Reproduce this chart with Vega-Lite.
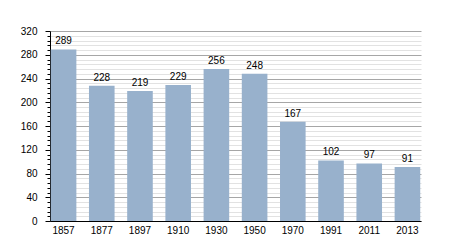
{
  "$schema": "https://vega.github.io/schema/vega-lite/v6.json",
  "width": 371,
  "height": 190,
  "autosize": "none",
  "padding": {"left": 50, "top": 31, "right": 29, "bottom": 29},
  "background": "white",
  "config": {
    "view": {"stroke": null},
    "font": "Liberation Sans",
    "axis": {"labelFont": "Liberation Sans", "labelFontSize": 10, "labelColor": "#000", "domainColor": "#000", "tickColor": "#000", "titleFontSize": 10}
  },
  "data": {
    "values": [
      {"year": "1857", "pop": 289},
      {"year": "1877", "pop": 228},
      {"year": "1897", "pop": 219},
      {"year": "1910", "pop": 229},
      {"year": "1930", "pop": 256},
      {"year": "1950", "pop": 248},
      {"year": "1970", "pop": 167},
      {"year": "1991", "pop": 102},
      {"year": "2011", "pop": 97},
      {"year": "2013", "pop": 91}
    ]
  },
  "encoding": {
    "x": {
      "field": "year",
      "type": "nominal",
      "sort": null,
      "scale": {"paddingInner": 0.33, "paddingOuter": 0.02},
      "axis": {"title": null, "labelAngle": 0, "ticks": false, "labelPadding": 4, "domainWidth": 1}
    },
    "y": {
      "field": "pop",
      "type": "quantitative",
      "scale": {"domain": [0, 320], "nice": false},
      "axis": {
        "title": null,
        "values": [0, 8, 16, 24, 32, 40, 48, 56, 64, 72, 80, 88, 96, 104, 112, 120, 128, 136, 144, 152, 160, 168, 176, 184, 192, 200, 208, 216, 224, 232, 240, 248, 256, 264, 272, 280, 288, 296, 304, 312, 320],
        "labelExpr": "datum.value % 40 === 0 ? datum.label : ''",
        "grid": true,
        "gridColor": {"condition": {"test": "datum.value % 40 === 0", "value": "#a6a6a6"}, "value": "#e2e2e2"},
        "tickSize": {"condition": {"test": "datum.value % 40 === 0", "value": 5}, "value": 3},
        "labelPadding": 8,
        "domainWidth": 1
      }
    }
  },
  "layer": [
    {"mark": {"type": "bar", "color": "#98b1cc"}},
    {
      "mark": {"type": "text", "dy": -5, "baseline": "alphabetic", "fontSize": 10, "color": "#000", "font": "Liberation Sans"},
      "encoding": {"text": {"field": "pop", "type": "quantitative"}}
    }
  ]
}
